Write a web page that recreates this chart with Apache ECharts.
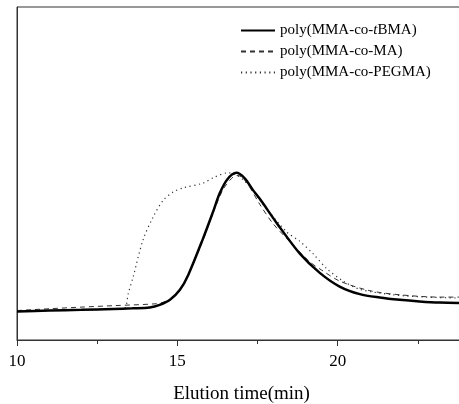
<!DOCTYPE html>
<html>
<head>
<meta charset="utf-8">
<script src="https://cdn.jsdelivr.net/npm/echarts@6/dist/echarts.min.js"></script>
<style>html,body{margin:0;padding:0;background:#fff}#c{width:459px;height:404px}</style>
</head>
<body>
<div id="c"></div>
<script>
var seriesNames = ['poly(MMA-co-tBMA)', 'poly(MMA-co-MA)', 'poly(MMA-co-PEGMA)'];
var xTickLabels = [10, 15, 20];

var tBMA_t = [10, 11, 12, 13, 13.6, 14.14, 14.45, 14.77, 15.08, 15.34, 15.8, 16.12, 16.32, 16.55, 16.84, 17.1, 17.37, 17.57, 18.14, 18.82, 19.44, 20.06, 20.69, 21.31, 21.93, 22.55, 23.18, 24];
var tBMA_v = [-0.012, -0.005, 0.0, 0.007, 0.011, 0.017, 0.036, 0.073, 0.146, 0.255, 0.52, 0.72, 0.85, 0.95, 1.0, 0.96, 0.87, 0.81, 0.62, 0.41, 0.27, 0.17, 0.115, 0.09, 0.073, 0.061, 0.053, 0.05];

var MA_t = [10, 11, 12, 13.05, 14.3, 14.6, 14.85, 15.08, 15.39, 15.8, 16.12, 16.43, 16.74, 16.9, 17.16, 17.57, 17.98, 18.5, 19.13, 19.5, 20.06, 21.0, 21.93, 23.18, 24];
var MA_v = [-0.005, 0.008, 0.02, 0.031, 0.044, 0.058, 0.088, 0.145, 0.28, 0.51, 0.71, 0.88, 0.97, 0.98, 0.93, 0.77, 0.63, 0.50, 0.35, 0.29, 0.21, 0.14, 0.11, 0.093, 0.093];

var PEG_t = [10, 11, 12, 13.0, 13.35, 13.47, 13.62, 13.93, 14.25, 14.56, 14.87, 15.18, 15.8, 16.17, 16.58, 16.8, 17.05, 17.26, 17.57, 18.4, 18.82, 19.23, 19.66, 20.17, 20.69, 21.72, 22.76, 24];
var PEG_v = [-0.008, -0.005, 0.0, 0.005, 0.01, 0.12, 0.24, 0.51, 0.68, 0.80, 0.86, 0.89, 0.925, 0.97, 1.0, 0.99, 0.95, 0.90, 0.80, 0.57, 0.50, 0.41, 0.30, 0.21, 0.15, 0.11, 0.093, 0.085];

function pairs(t, v) { return t.map(function (x, i) { return [x, v[i]]; }); }

var FONT = 'Liberation Serif';
var chart = echarts.init(document.getElementById('c'), null, {renderer: 'canvas'});
chart.setOption({
  animation: false,
  backgroundColor: '#fff',
  grid: {left: 17, width: 449, top: 7, bottom: 64, show: true, borderColor: '#333', borderWidth: 1, backgroundColor: 'transparent',
    containLabel: false, outerBoundsMode: 'none'},
  legend: {
    orient: 'vertical', left: 240, top: 23, padding: 0, itemWidth: 34, itemHeight: 14, itemGap: 6,
    data: seriesNames,
    itemStyle: {color: 'transparent', borderWidth: 0, opacity: 0},
    formatter: function (name) {
      if (name === seriesNames[0]) return '{n|poly(MMA-co-}{i|t}{n|BMA)}';
      return '{n|' + name + '}';
    },
    textStyle: {fontFamily: FONT, fontSize: 15, color: '#000', lineHeight: 14,
      rich: {n: {fontFamily: FONT, fontSize: 15, color: '#000'}, i: {fontFamily: FONT, fontSize: 15, color: '#000', fontStyle: 'italic'}}}
  },
  xAxis: {
    type: 'value', min: 10, max: 24, interval: 5,
    name: 'Elution time(min)', nameLocation: 'middle', nameGap: 45,
    nameTextStyle: {fontFamily: FONT, fontSize: 19, color: '#000'},
    axisLine: {show: true, onZero: false, lineStyle: {color: '#333', width: 1}},
    axisTick: {show: true, length: 6, lineStyle: {color: '#333'}},
    minorTick: {show: true, splitNumber: 2, length: 4, lineStyle: {color: '#333'}},
    axisLabel: {fontFamily: FONT, fontSize: 17, color: '#000', margin: 13,
      formatter: function (v) { return xTickLabels.indexOf(v) >= 0 ? String(v) : ''; }},
    splitLine: {show: false}
  },
  yAxis: {
    type: 'value', min: -0.22, max: 2.21,
    axisLine: {show: true, onZero: false, lineStyle: {color: '#333', width: 1}},
    axisTick: {show: false}, axisLabel: {show: false}, splitLine: {show: false}
  },
  series: [
    {name: seriesNames[0], type: 'line', data: pairs(tBMA_t, tBMA_v), smooth: 0.3, symbol: 'none', z: 3,
      lineStyle: {color: '#000', width: 2.5}, itemStyle: {color: '#000'}},
    {name: seriesNames[1], type: 'line', data: pairs(MA_t, MA_v), smooth: 0.3, symbol: 'none', z: 2,
      lineStyle: {color: '#333', width: 1, type: [5, 4]}, itemStyle: {color: '#333'}},
    {name: seriesNames[2], type: 'line', data: pairs(PEG_t, PEG_v), smooth: 0.3, symbol: 'none', z: 2,
      lineStyle: {color: '#333', width: 1.2, type: [1.2, 3.5]}, itemStyle: {color: '#333'}}
  ]
});
</script>
</body>
</html>
